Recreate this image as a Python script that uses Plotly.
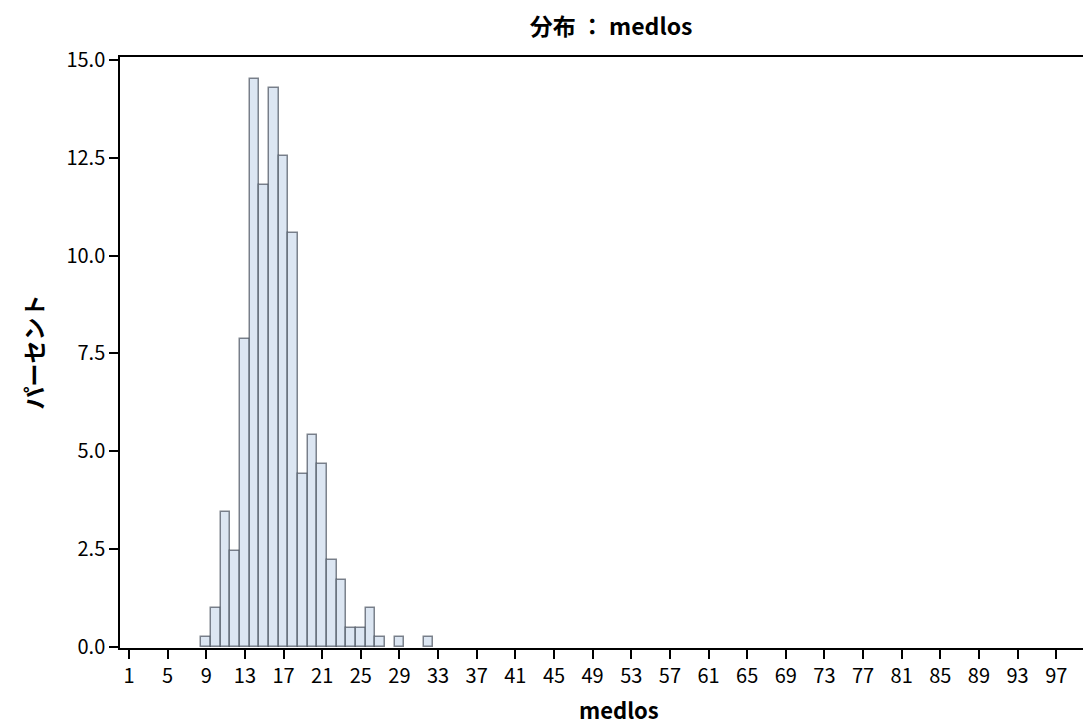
import plotly.graph_objects as go

# medlos values (bin centres) and percent of observations
medlos = [9, 10, 11, 12, 13, 14, 15, 16, 17, 18, 19, 20, 21, 22, 23, 24, 25, 26, 27, 29, 32]
percent = [0.25, 0.99, 3.45, 2.46, 7.88, 14.53, 11.82, 14.29, 12.56, 10.59,
           4.43, 5.42, 4.68, 2.22, 1.72, 0.49, 0.49, 0.99, 0.25, 0.25, 0.25]

xticks = list(range(1, 98, 4))
yticks = [0, 2.5, 5, 7.5, 10, 12.5, 15]

font = "Noto Sans CJK JP"

# the page adds an 8px body margin, so the figure is shifted by 8px
W, H = 1083, 717
L, T, B = 112, 49, 77
PW, PH = W - L, H - T - B

fig = go.Figure()
fig.add_trace(go.Bar(
    x=medlos, y=percent, width=1,
    marker=dict(color="#dce6f2", line=dict(color="rgba(60,68,80,0.65)", width=1.5)),
    hoverinfo="x+y",
))

fig.update_layout(
    width=W, height=H,
    margin=dict(l=L, r=0, t=T, b=B),
    plot_bgcolor="white", paper_bgcolor="white",
    showlegend=False,
    font=dict(family=font, color="black"),
    title=dict(text="<b>分布 ： medlos</b>", x=(L + 491) / W, xanchor="center",
               y=1 - 19 / H, yanchor="middle", yref="container",
               font=dict(size=23, family=font)),
    bargap=0,
)
fig.update_xaxes(
    range=[0.07, 100.6], tickvals=xticks, ticktext=[str(t) for t in xticks],
    ticks="outside", ticklen=9, tickwidth=1.5, tickcolor="black",
    showline=True, linecolor="black", linewidth=1.5, mirror=True,
    showgrid=False, zeroline=False, tickfont=dict(size=20, family=font),
)
fig.update_yaxes(
    range=[-0.03, 15.08], tickvals=yticks, ticktext=["%.1f" % t for t in yticks],
    ticks="outside", ticklen=9, tickwidth=1.5, tickcolor="black",
    showline=True, linecolor="black", linewidth=1.5,
    showgrid=False, zeroline=False, tickfont=dict(size=20, family=font),
)

fig.add_annotation(text="<b>medlos</b>", xref="paper", yref="paper",
                   x=499 / PW, y=-61 / PH, xanchor="center", yanchor="middle",
                   showarrow=False, font=dict(size=22, family=font))
fig.add_annotation(text="<b>パーセント</b>", xref="paper", yref="paper",
                   x=-88 / PW, y=0.5, xanchor="center", yanchor="middle",
                   textangle=-90, showarrow=False, font=dict(size=23, family=font))

fig.write_html("out.html")
